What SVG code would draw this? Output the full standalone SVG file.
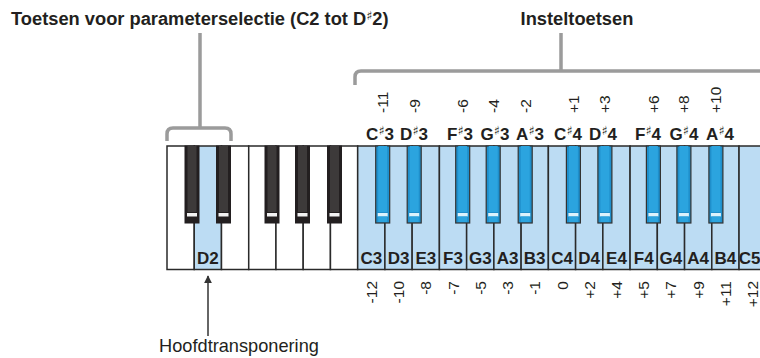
<svg xmlns="http://www.w3.org/2000/svg" width="760" height="358" viewBox="0 0 760 358">
<style>
.t{font-family:"Liberation Sans",Arial,sans-serif;fill:#231f20}
.h{font-size:18.3px;font-weight:bold}
.k{font-size:17px;font-weight:bold;text-anchor:middle}
.n{font-size:15.5px}
.ne{font-size:15.5px;text-anchor:end}
.sh{font-family:"DejaVu Sans",sans-serif;font-size:12.5px;font-weight:normal}
.w{fill:#ffffff;stroke:#2a2a2a;stroke-width:1.5}
.wb{fill:#bcdcf3;stroke:#2a2a2a;stroke-width:1.5}
.br{fill:none;stroke:#9b9b9b;stroke-width:3.5}
</style>
<defs>
<g id="bk">
<rect x="0" y="146" width="14" height="77" fill="#231f20" stroke="#231f20" stroke-width="1"/>
<rect x="2.5" y="146" width="9" height="66" fill="#3d3a3a"/>
<rect x="2" y="213" width="10" height="3.5" fill="#f2f2f2"/>
</g>
<g id="bb">
<rect x="0" y="146" width="14" height="77" fill="#1f8fcb" stroke="#333333" stroke-width="1.2"/>
<rect x="2.5" y="146" width="9" height="66" fill="#2ba4df"/>
<rect x="2" y="213" width="10" height="3.5" fill="#dcf2fc"/>
<rect x="2.5" y="216.5" width="9" height="5.5" fill="#2ba4df"/>
</g>
<marker id="ah" viewBox="0 0 10 10" refX="9" refY="5" markerWidth="8" markerHeight="8" markerUnits="userSpaceOnUse" orient="auto">
<path d="M0,0 L10,5 L0,10 z" fill="#333333"/>
</marker>
</defs>

<g id="titles">
<text id="title-left" class="t h" x="11" y="25">Toetsen voor parameterselectie (C2 tot D<tspan class="sh" dy="-5">♯</tspan><tspan dy="5">2)</tspan></text>
<text id="title-right" class="t h" x="577" y="25" text-anchor="middle">Insteltoetsen</text>
<text id="title-bottom" class="t" x="239" y="352" font-size="18.2px" text-anchor="middle">Hoofdtransponering</text>
</g>

<g id="connectors">
<path class="br" d="M200,33 V128 M167,141 V134 Q167,128 173,128 H225 Q231,128 231,134 V141"/>
<path class="br" d="M561,33 V71 M355,85 V77 Q355,71 361,71 H765"/>
<line x1="208" y1="336" x2="208" y2="276" stroke="#333333" stroke-width="1.5" marker-end="url(#ah)"/>
</g>

<g id="white-keys">
<rect id="C2" class="w" x="167" y="146" width="27.24" height="123.5"/>
<rect id="D2" class="wb" x="194.24" y="146" width="27.24" height="123.5"/>
<rect id="E2" class="w" x="221.48" y="146" width="27.24" height="123.5"/>
<rect id="F2" class="w" x="248.72" y="146" width="27.24" height="123.5"/>
<rect id="G2" class="w" x="275.96" y="146" width="27.24" height="123.5"/>
<rect id="A2" class="w" x="303.2" y="146" width="27.24" height="123.5"/>
<rect id="B2" class="w" x="330.44" y="146" width="27.24" height="123.5"/>
<rect id="C3" class="wb" x="357.68" y="146" width="27.24" height="123.5"/>
<rect id="D3" class="wb" x="384.92" y="146" width="27.24" height="123.5"/>
<rect id="E3" class="wb" x="412.16" y="146" width="27.24" height="123.5"/>
<rect id="F3" class="wb" x="439.4" y="146" width="27.24" height="123.5"/>
<rect id="G3" class="wb" x="466.64" y="146" width="27.24" height="123.5"/>
<rect id="A3" class="wb" x="493.88" y="146" width="27.24" height="123.5"/>
<rect id="B3" class="wb" x="521.12" y="146" width="27.24" height="123.5"/>
<rect id="C4" class="wb" x="548.36" y="146" width="27.24" height="123.5"/>
<rect id="D4" class="wb" x="575.6" y="146" width="27.24" height="123.5"/>
<rect id="E4" class="wb" x="602.84" y="146" width="27.24" height="123.5"/>
<rect id="F4" class="wb" x="630.08" y="146" width="27.24" height="123.5"/>
<rect id="G4" class="wb" x="657.32" y="146" width="27.24" height="123.5"/>
<rect id="A4" class="wb" x="684.56" y="146" width="27.24" height="123.5"/>
<rect id="B4" class="wb" x="711.8" y="146" width="27.24" height="123.5"/>
<rect id="C5" class="wb" x="739.04" y="146" width="30" height="123.5"/>
</g>

<g id="black-keys">
<use id="Cs2" href="#bk" x="185"/>
<use id="Ds2" href="#bk" x="216.5"/>
<use id="Fs2" href="#bk" x="265"/>
<use id="Gs2" href="#bk" x="295.5"/>
<use id="As2" href="#bk" x="327.5"/>
<use id="Cs3" href="#bb" x="375.7"/>
<use id="Ds3" href="#bb" x="407.2"/>
<use id="Fs3" href="#bb" x="455.7"/>
<use id="Gs3" href="#bb" x="486.2"/>
<use id="As3" href="#bb" x="518.2"/>
<use id="Cs4" href="#bb" x="566.4"/>
<use id="Ds4" href="#bb" x="597.9"/>
<use id="Fs4" href="#bb" x="646.4"/>
<use id="Gs4" href="#bb" x="676.9"/>
<use id="As4" href="#bb" x="708.9"/>
</g>

<g id="white-labels" class="t k">
<text x="207.9" y="264">D2</text>
<text x="371.3" y="264">C3</text>
<text x="398.5" y="264">D3</text>
<text x="425.8" y="264">E3</text>
<text x="453" y="264">F3</text>
<text x="480.3" y="264">G3</text>
<text x="507.5" y="264">A3</text>
<text x="534.7" y="264">B3</text>
<text x="562" y="264">C4</text>
<text x="589.2" y="264">D4</text>
<text x="616.5" y="264">E4</text>
<text x="643.7" y="264">F4</text>
<text x="670.9" y="264">G4</text>
<text x="698.2" y="264">A4</text>
<text x="725.4" y="264">B4</text>
<text x="749.5" y="264">C5</text>
</g>

<g id="black-labels" class="t k">
<text x="380" y="140">C<tspan class="sh" dy="-5">♯</tspan><tspan dy="5">3</tspan></text>
<text x="414" y="140">D<tspan class="sh" dy="-5">♯</tspan><tspan dy="5">3</tspan></text>
<text x="460" y="140">F<tspan class="sh" dy="-5">♯</tspan><tspan dy="5">3</tspan></text>
<text x="495" y="140">G<tspan class="sh" dy="-5">♯</tspan><tspan dy="5">3</tspan></text>
<text x="530" y="140">A<tspan class="sh" dy="-5">♯</tspan><tspan dy="5">3</tspan></text>
<text x="568" y="140">C<tspan class="sh" dy="-5">♯</tspan><tspan dy="5">4</tspan></text>
<text x="603" y="140">D<tspan class="sh" dy="-5">♯</tspan><tspan dy="5">4</tspan></text>
<text x="648" y="140">F<tspan class="sh" dy="-5">♯</tspan><tspan dy="5">4</tspan></text>
<text x="684" y="140">G<tspan class="sh" dy="-5">♯</tspan><tspan dy="5">4</tspan></text>
<text x="720" y="140">A<tspan class="sh" dy="-5">♯</tspan><tspan dy="5">4</tspan></text>
</g>

<g id="upper-values" class="t n">
<text transform="translate(388.2,113) rotate(-90)">-11</text>
<text transform="translate(419.7,113) rotate(-90)">-9</text>
<text transform="translate(468.2,113) rotate(-90)">-6</text>
<text transform="translate(498.7,113) rotate(-90)">-4</text>
<text transform="translate(530.7,113) rotate(-90)">-2</text>
<text transform="translate(578.9,113) rotate(-90)">+1</text>
<text transform="translate(610.4,113) rotate(-90)">+3</text>
<text transform="translate(658.9,113) rotate(-90)">+6</text>
<text transform="translate(689.4,113) rotate(-90)">+8</text>
<text transform="translate(721.4,113) rotate(-90)">+10</text>
</g>

<g id="lower-values" class="t ne">
<text transform="translate(376.8,281) rotate(-90)">-12</text>
<text transform="translate(404,281) rotate(-90)">-10</text>
<text transform="translate(431.3,281) rotate(-90)">-8</text>
<text transform="translate(458.5,281) rotate(-90)">-7</text>
<text transform="translate(485.8,281) rotate(-90)">-5</text>
<text transform="translate(513,281) rotate(-90)">-3</text>
<text transform="translate(540.2,281) rotate(-90)">-1</text>
<text transform="translate(567.5,281) rotate(-90)">0</text>
<text transform="translate(594.7,281) rotate(-90)">+2</text>
<text transform="translate(622,281) rotate(-90)">+4</text>
<text transform="translate(649.2,281) rotate(-90)">+5</text>
<text transform="translate(676.4,281) rotate(-90)">+7</text>
<text transform="translate(703.7,281) rotate(-90)">+9</text>
<text transform="translate(730.9,281) rotate(-90)">+11</text>
<text transform="translate(758.2,281) rotate(-90)">+12</text>
</g>
</svg>
